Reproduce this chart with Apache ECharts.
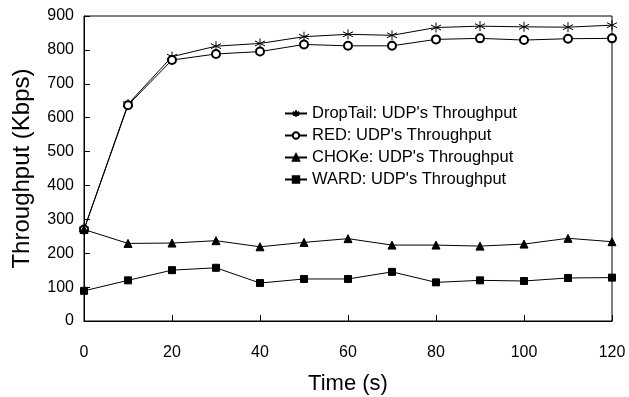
<!DOCTYPE html>
<html>
<head>
<meta charset="utf-8">
<script src="https://cdn.jsdelivr.net/npm/echarts@6/dist/echarts.min.js"></script>
<style>
  html, body { margin: 0; padding: 0; background: #fff; }
  #chart { width: 629px; height: 397px; }
</style>
</head>
<body>
<div id="chart"></div>
<script>
const times = [0, 10, 20, 30, 40, 50, 60, 70, 80, 90, 100, 110, 120]
const dropTail = [270, 640, 780, 811, 819, 839, 846, 843, 866, 870, 868, 867, 873]
const red = [270, 637, 770, 788, 795, 816, 812, 812, 831, 834, 829, 833, 834]
const choke = [270, 229, 230, 237, 219, 232, 243, 224, 224, 221, 227, 244, 234]
const ward = [89, 120, 150, 157, 112, 124, 124, 145, 114, 120, 118, 127, 128]

const seriesNames = [
  "DropTail: UDP's Throughput",
  "RED: UDP's Throughput",
  "CHOKe: UDP's Throughput",
  "WARD: UDP's Throughput"
]

const font = 'Liberation Sans, Arial, sans-serif'
const asterisk = 'path://M0,-5L0,5M-4.3,-2.5L4.3,2.5M-4.3,2.5L4.3,-2.5'

function pairs(values) {
  return times.map((t, i) => [t, values[i]])
}

function line(name, values, symbol, size) {
  return {
    name,
    type: 'line',
    data: pairs(values),
    symbol,
    symbolSize: size,
    lineStyle: { color: '#000', width: 1 },
    itemStyle: { color: '#000', borderColor: '#000', borderWidth: 1 },
    animation: false
  }
}

const chart = echarts.init(document.getElementById('chart'))
chart.setOption({
  backgroundColor: '#fff',
  textStyle: { fontFamily: font, color: '#000' },
  grid: {
    left: 84, right: 17, top: 16, bottom: 76,
    outerBoundsMode: 'none',
    show: true, borderColor: '#000', borderWidth: 1
  },
  legend: {
    orient: 'vertical',
    left: 279,
    top: 100,
    itemWidth: 22,
    itemHeight: 8,
    itemGap: 5,
    textStyle: { fontFamily: font, fontSize: 16.5, color: '#000', lineHeight: 16 },
    data: seriesNames
  },
  xAxis: {
    type: 'value',
    min: 0,
    max: 120,
    interval: 20,
    name: 'Time (s)',
    nameLocation: 'middle',
    nameGap: 52,
    nameTextStyle: { fontFamily: font, fontSize: 22, color: '#000' },
    axisLine: { lineStyle: { color: '#000', width: 1 } },
    axisTick: { inside: true, length: 6, lineStyle: { color: '#000' } },
    axisLabel: { fontFamily: font, fontSize: 16, color: '#000', margin: 24 },
    splitLine: { show: false }
  },
  yAxis: {
    type: 'value',
    min: 0,
    max: 900,
    interval: 100,
    name: 'Throughput (Kbps)',
    nameLocation: 'middle',
    nameGap: 50,
    nameTextStyle: { fontFamily: font, fontSize: 24, color: '#000' },
    axisLine: { show: true, lineStyle: { color: '#000', width: 1 } },
    axisTick: { show: true, inside: true, length: 6, lineStyle: { color: '#000' } },
    axisLabel: { fontFamily: font, fontSize: 16, color: '#000', margin: 10 },
    splitLine: { show: false }
  },
  series: [
    line(seriesNames[0], dropTail, asterisk, 10),
    line(seriesNames[1], red, 'emptyCircle', 8),
    line(seriesNames[2], choke, 'triangle', 8),
    line(seriesNames[3], ward, 'rect', 7)
  ]
})
</script>
</body>
</html>
